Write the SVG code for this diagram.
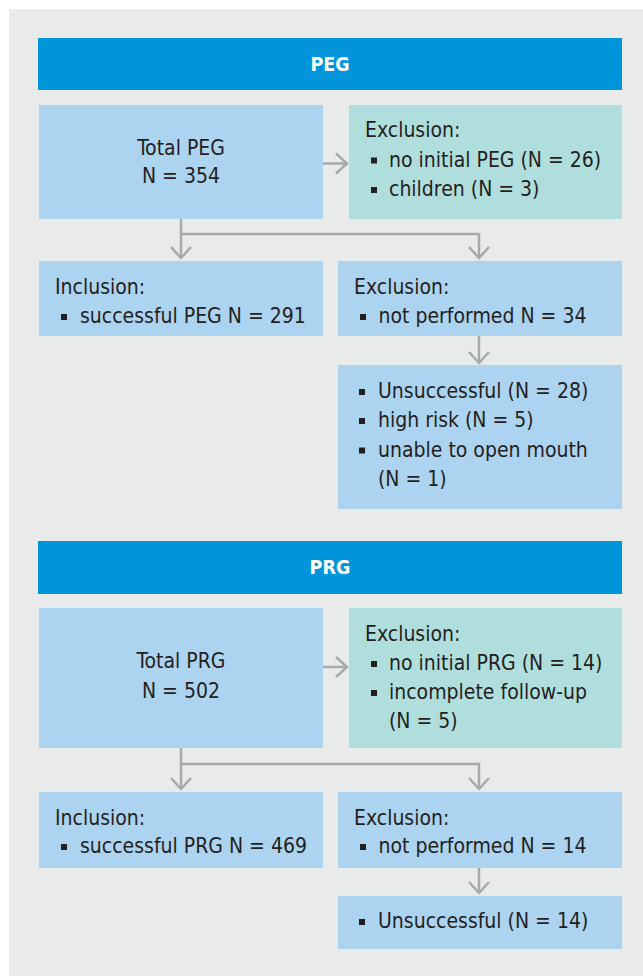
<svg xmlns="http://www.w3.org/2000/svg" width="643" height="976" viewBox="0 0 643 976">
<style>
.bg{fill:#E9EBEB}
.hd{fill:#0095DA}
.bx{fill:#ACD3F0}
.tl{fill:#B0DEDC}
.t{font-family:"DejaVu Sans Condensed","Liberation Sans",sans-serif;font-size:21px;fill:#231F20}
.c{text-anchor:middle}
.h{font-family:"DejaVu Sans Condensed","Liberation Sans",sans-serif;font-size:19.5px;font-weight:bold;fill:#FFFFFF;text-anchor:middle}
.b{fill:#231F20}
.cn{fill:none;stroke:#A7A9AC;stroke-width:2.5}
</style>
<defs>
<marker id="chev" viewBox="-13 -12 15 24" markerWidth="15" markerHeight="24" refX="0" refY="0" orient="auto" markerUnits="userSpaceOnUse">
<path d="M-11,-10 L0,0 L-11,10" fill="none" stroke="#A7A9AC" stroke-width="2.5"/>
</marker>
</defs>
<rect class="bg" x="9" y="9" width="634" height="967"/>

<g id="peg-header">
<rect class="hd" x="38" y="38" width="584" height="52"/>
<text class="h" x="330" y="71">PEG</text>
</g>
<g id="total-peg">
<rect class="bx" x="39" y="105" width="284" height="114"/>
<text class="t c" x="181" y="155">Total PEG</text>
<text class="t c" x="181" y="183">N = 354</text>
</g>
<g id="peg-exclusion-1">
<rect class="tl" x="349" y="105" width="273" height="114"/>
<text class="t" x="365" y="137">Exclusion:</text>
<rect class="b" x="371" y="157.5" width="6" height="6"/>
<text class="t" x="389" y="166.5">no initial PEG (N = 26)</text>
<rect class="b" x="371" y="187" width="6" height="6"/>
<text class="t" x="389" y="196">children (N = 3)</text>
</g>
<g id="peg-inclusion">
<rect class="bx" x="39" y="261" width="284" height="75"/>
<text class="t" x="55" y="294">Inclusion:</text>
<rect class="b" x="61" y="314" width="6" height="6"/>
<text class="t" x="80" y="323">successful PEG N = 291</text>
</g>
<g id="peg-exclusion-2">
<rect class="bx" x="338" y="261" width="284" height="75"/>
<text class="t" x="354" y="294">Exclusion:</text>
<rect class="b" x="360" y="314" width="6" height="6"/>
<text class="t" x="378.5" y="323">not performed N = 34</text>
</g>
<g id="peg-unsuccessful">
<rect class="bx" x="338" y="365" width="284" height="144"/>
<rect class="b" x="359" y="389" width="6" height="6"/>
<text class="t" x="378" y="398">Unsuccessful (N = 28)</text>
<rect class="b" x="359" y="418" width="6" height="6"/>
<text class="t" x="378" y="427">high risk (N = 5)</text>
<rect class="b" x="359" y="447.5" width="6" height="6"/>
<text class="t" x="378" y="456.5">unable to open mouth</text>
<text class="t" x="378" y="485.5">(N = 1)</text>
</g>

<g id="prg-header">
<rect class="hd" x="38" y="541" width="584" height="53"/>
<text class="h" x="330" y="574">PRG</text>
</g>
<g id="total-prg">
<rect class="bx" x="39" y="608" width="284" height="140"/>
<text class="t c" x="181" y="668">Total PRG</text>
<text class="t c" x="181" y="697.5">N = 502</text>
</g>
<g id="prg-exclusion-1">
<rect class="tl" x="349" y="608" width="273" height="140"/>
<text class="t" x="365" y="641">Exclusion:</text>
<rect class="b" x="371" y="661" width="6" height="6"/>
<text class="t" x="389" y="670">no initial PRG (N = 14)</text>
<rect class="b" x="371" y="690" width="6" height="6"/>
<text class="t" x="389" y="699">incomplete follow-up</text>
<text class="t" x="389" y="728">(N = 5)</text>
</g>
<g id="prg-inclusion">
<rect class="bx" x="39" y="792" width="284" height="76"/>
<text class="t" x="55" y="825">Inclusion:</text>
<rect class="b" x="61" y="844" width="6" height="6"/>
<text class="t" x="80" y="853">successful PRG N = 469</text>
</g>
<g id="prg-exclusion-2">
<rect class="bx" x="338" y="792" width="284" height="76"/>
<text class="t" x="354" y="825">Exclusion:</text>
<rect class="b" x="360" y="844" width="6" height="6"/>
<text class="t" x="378.5" y="853">not performed N = 14</text>
</g>
<g id="prg-unsuccessful">
<rect class="bx" x="338" y="896" width="284" height="53"/>
<rect class="b" x="359" y="919" width="6" height="6"/>
<text class="t" x="378" y="928">Unsuccessful (N = 14)</text>
</g>

<g id="connectors">
<path class="cn" d="M323,163.5 H347" marker-end="url(#chev)"/>
<path class="cn" d="M181,219 V258" marker-end="url(#chev)"/>
<path class="cn" d="M181,234 H479 V258" marker-end="url(#chev)"/>
<path class="cn" d="M479,336 V363" marker-end="url(#chev)"/>
<path class="cn" d="M323,667 H347" marker-end="url(#chev)"/>
<path class="cn" d="M181,748 V789" marker-end="url(#chev)"/>
<path class="cn" d="M181,764 H479 V789" marker-end="url(#chev)"/>
<path class="cn" d="M479,868 V893" marker-end="url(#chev)"/>
</g>
</svg>
